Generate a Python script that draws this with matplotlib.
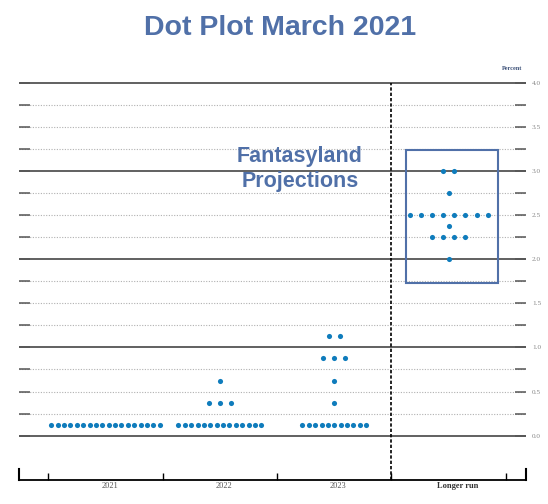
import matplotlib
matplotlib.use("Agg")
import matplotlib.pyplot as plt
from matplotlib.patches import Rectangle
import numpy as np

# ---- data ----
categories = ["2021", "2022", "2023", "Longer run"]
rates_2021 = [0.125]
counts_2021 = [18]
rates_2022 = [0.125, 0.375, 0.625]
counts_2022 = [14, 3, 1]
rates_2023 = [0.125, 0.375, 0.625, 0.875, 1.125]
counts_2023 = [11, 1, 1, 3, 2]
rates_longer = [2.0, 2.25, 2.375, 2.5, 2.75, 3.0]
counts_longer = [1, 4, 1, 8, 1, 2]
ytick_labels = ["0.0", "0.5", "1.0", "1.5", "2.0", "2.5", "3.0", "3.5", "4.0"]

all_rates = [rates_2021, rates_2022, rates_2023, rates_longer]
all_counts = [counts_2021, counts_2022, counts_2023, counts_longer]

BLUE = "#5070a8"
DOT = "#0f7cbc"

fig = plt.figure(figsize=(5.48, 5.04), dpi=100)
ax = fig.add_axes([0.0347, 0.0470, 0.9252, 0.798])
ylo, yhi = -0.505, 4.05
ax.set_xlim(-0.756, 3.676)
ax.set_ylim(ylo, yhi)

# horizontal grid lines
levels = np.arange(0, 4.01, 0.25)
for lv in levels:
    if abs(lv - round(lv)) < 1e-9:
        ax.axhline(lv, color="#606060", lw=1.4, zorder=1)
    else:
        ax.axhline(lv, color="#b0b0b0", lw=0.8, ls=(0, (1, 1.4)), zorder=1)

# dots
for i, (rs, cs) in enumerate(zip(all_rates, all_counts)):
    for r, c in zip(rs, cs):
        sp = 0.0557 if c > 8 else 0.0975
        xs = i + (np.arange(c) - (c - 1) / 2) * sp
        ax.plot(xs, [r] * c, 'o', color=DOT, ms=3.7, mec='none', zorder=4)

# vertical dashed separator
ax.vlines(2.5, ylo, 4.0, colors="black", lw=1.2, linestyles=(0, (2, 1.2)), zorder=3)

# y ticks (right labels)
ax.set_yticks(levels)
ax.set_yticklabels([ytick_labels[int(k // 2)] if k % 2 == 0 else "" for k in range(len(levels))])
ax.tick_params(axis='y', direction='in', left=True, right=True, labelleft=False,
               labelright=True, length=8, width=1.1, color="#555555", pad=4.3,
               labelsize=5.2, labelcolor="#888888")
for lab in ax.get_yticklabels():
    lab.set_fontfamily("Liberation Serif")

# x ticks at boundaries
ax.set_xticks([-0.5, 0.5, 1.5, 2.5, 3.5])
ax.set_xticklabels([])
ax.tick_params(axis='x', direction='in', length=5, width=1.0, color="black")
for i, cat in enumerate(categories):
    off = 0.08 if cat == "Longer run" else 0.035
    ax.text(i + off, ylo - 0.02, cat, ha='center', va='top', fontsize=6,
            family="Liberation Serif",
            fontweight='bold' if cat == "Longer run" else 'normal',
            color="#333333" if cat == "Longer run" else "#555555")

# spines
ax.spines['top'].set_visible(False)
ax.spines['bottom'].set_linewidth(1.3)
for s in ['left', 'right']:
    ax.spines[s].set_bounds(ylo, ylo + 0.125)
    ax.spines[s].set_linewidth(1.5)

# Fantasyland box & text
ax.add_patch(Rectangle((2.623, 1.733), 0.81, 1.502, fill=False, edgecolor=BLUE,
                       lw=1.5, zorder=5))
ax.text(1.70, 3.103, "Fantasyland", ha='center', va='baseline', fontsize=15.5,
        fontweight='bold', family="Liberation Sans", color=BLUE, zorder=6)
ax.text(1.70, 2.813, "Projections", ha='center', va='baseline', fontsize=15.5,
        fontweight='bold', family="Liberation Sans", color=BLUE, zorder=6)

# title and Percent
fig.text(0.511, 1 - 35 / 504, "Dot Plot March 2021", ha='center', va='baseline',
         fontsize=20.5, fontweight='bold', family="Liberation Sans", color=BLUE)
fig.text(522 / 548, 1 - 68 / 504, "Percent", ha='right', va='center', fontsize=4.5,
         fontweight='bold', family="Liberation Serif", color="#3c5078")

fig.savefig("out.png", dpi=100)
